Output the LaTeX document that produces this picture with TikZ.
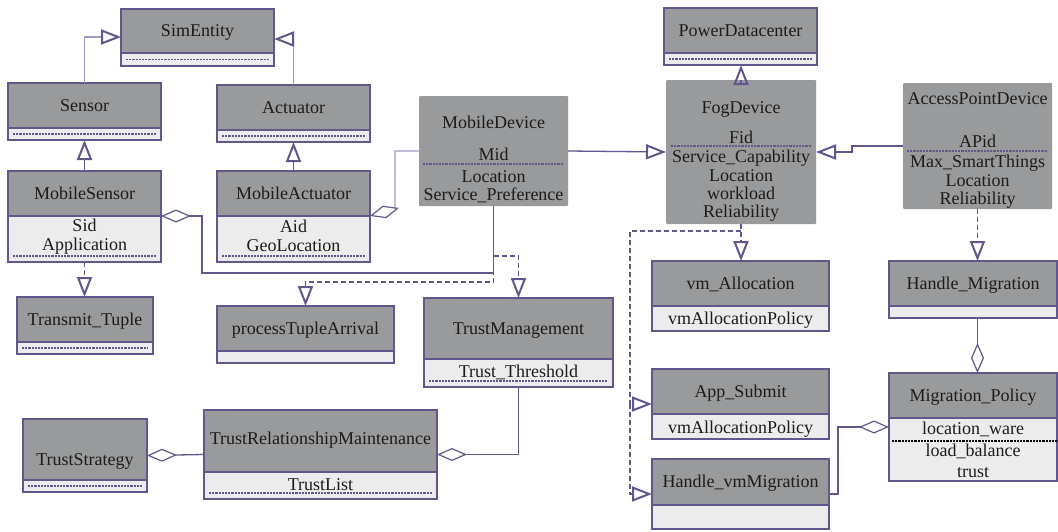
\documentclass[tikz,border=0pt]{standalone}
\usepackage{fontspec}
\setmainfont{Liberation Serif}
\usetikzlibrary{arrows.meta,calc}
\definecolor{hdrgray}{RGB}{152,154,156}
\definecolor{cmpgray}{RGB}{236,236,236}
\definecolor{umlpurple}{RGB}{96,88,140}
\definecolor{lightpurple}{RGB}{160,154,196}
\definecolor{txtcol}{RGB}{28,28,28}
\newcommand\fs{\fontsize{18}{19}\selectfont}
\tikzset{
  hdr/.style={draw=umlpurple, line width=1.5pt, fill=hdrgray, inner sep=0pt, outer sep=0pt,
    text height=13pt, text depth=2pt, font=\fs, text=txtcol},
  cmp/.style={draw=umlpurple, line width=1.5pt, fill=cmpgray, inner sep=0pt, outer sep=0pt},
  graybox/.style={fill=hdrgray, rounded corners=1pt, inner sep=0pt, outer sep=0pt},
  txt/.style={inner sep=0pt, outer sep=0pt, font=\fs, text=txtcol},
  dotl/.style={draw=umlpurple, line width=1.3pt, dash pattern=on 2.2pt off 1pt},
  conn/.style={draw=umlpurple, line width=1.3pt},
  connl/.style={draw=lightpurple, line width=1.2pt},
  dconn/.style={draw=umlpurple, line width=1.2pt, dash pattern=on 5pt off 3pt},
  tri/.tip={Triangle[open, length=20pt, width=15pt, line width=2pt, color=umlpurple]},
  dia/.tip={Diamond[length=30pt, width=13pt, line width=1.2pt, fill=white, color=umlpurple]},
}
% name, x, y, w, header height, compartment height, title
\newcommand\classbox[7]{%
  \node[hdr, minimum width=#4pt, minimum height=#5pt, anchor=north west] (#1) at (#2,#3) {#7};
  \node[cmp, minimum width=#4pt, minimum height=#6pt, anchor=north] (#1-c) at (#1.south) {};
  \coordinate (#1-W) at ($(#1.north west)!0.5!(#1-c.south west)$);
  \coordinate (#1-E) at ($(#1.north east)!0.5!(#1-c.south east)$);
}
\newcommand\dotsep[2]{\draw[dotl] ([xshift=5pt,yshift=#2pt]#1-c.south west) -- ([xshift=-5pt,yshift=#2pt]#1-c.south east);}
\newcommand\tline[4]{\node[txt, anchor=base] (#1) at (#2.center |- 0,#3) {#4};}

\begin{document}
\begin{tikzpicture}[x=1pt,y=-1pt]
\useasboundingbox (0,0) rectangle (1058,531);

% ---- class boxes ----
\classbox{simentity}{121}{9}{153}{44}{13}{SimEntity}
\dotsep{simentity}{6.5}
\classbox{sensor}{8}{83}{153}{45}{12}{Sensor}
\dotsep{sensor}{6}
\classbox{actuator}{217}{85}{153}{45}{12}{Actuator}
\dotsep{actuator}{6}
\classbox{mobilesensor}{8}{171}{153}{45}{46}{MobileSensor}
\dotsep{mobilesensor}{6}
\tline{ms-a1}{mobilesensor-c}{231}{Sid}
\tline{ms-a2}{mobilesensor-c}{250}{Application}
\classbox{mobileactuator}{217}{171}{153}{45}{46}{MobileActuator}
\dotsep{mobileactuator}{6}
\tline{ma-a1}{mobileactuator-c}{232}{Aid}
\tline{ma-a2}{mobileactuator-c}{251}{GeoLocation}
\classbox{transmit}{17}{297}{136}{45}{12}{Transmit\_Tuple}
\dotsep{transmit}{6}
\classbox{ptarrival}{217}{306}{177}{45}{12}{processTupleArrival}
\classbox{trustmgmt}{424}{298}{189}{61}{28}{TrustManagement}
\dotsep{trustmgmt}{6}
\tline{tm-a1}{trustmgmt-c}{377}{Trust\_Threshold}
\classbox{tstrat}{23}{419}{124}{61}{12}{\raisebox{-10pt}{TrustStrategy}}
\dotsep{tstrat}{6}
\classbox{trm}{204}{410}{233}{62}{27}{\raisebox{2pt}{TrustRelationshipMaintenance}}
\dotsep{trm}{6}
\tline{trm-a1}{trm-c}{490}{TrustList}
\classbox{powerdc}{664}{8}{153}{45}{12}{PowerDatacenter}
\dotsep{powerdc}{6}
\classbox{vmalloc}{652}{261}{177}{45}{25}{vm\_Allocation}
\tline{va-a1}{vmalloc-c}{324}{vmAllocationPolicy}
\classbox{appsubmit}{652}{369}{177}{45}{25}{App\_Submit}
\tline{as-a1}{appsubmit-c}{433}{vmAllocationPolicy}
\classbox{hvm}{652}{459}{177}{46}{24}{Handle\_vmMigration}
\classbox{handlemig}{889}{261}{168}{45}{12}{Handle\_Migration}
\classbox{migpol}{889}{373}{168}{45}{63}{Migration\_Policy}
\tline{mp-a1}{migpol-c}{434}{location\_ware}
\tline{mp-a2}{migpol-c}{456}{load\_balance}
\tline{mp-a3}{migpol-c}{477}{trust}
\draw[black, line width=1.2pt, dash pattern=on 2.2pt off 1pt] (892,441) -- (1057,441);

% ---- gray boxes ----
\node[graybox, minimum width=149pt, minimum height=110pt, anchor=north west] (mobiledevice) at (419,96) {};
\draw[dotl] (423,164) -- (563,164);
\tline{md-t1}{mobiledevice}{128}{MobileDevice}
\tline{md-t2}{mobiledevice}{160}{Mid}
\tline{md-t3}{mobiledevice}{182}{Location}
\tline{md-t4}{mobiledevice}{200}{Service\_Preference}

\node[graybox, minimum width=150pt, minimum height=144pt, anchor=north west] (fogdevice) at (666,80) {};
\draw[dotl] (671,146) -- (811,146);
\tline{fd-t1}{fogdevice}{113}{FogDevice}
\tline{fd-t2}{fogdevice}{143}{Fid}
\tline{fd-t3}{fogdevice}{162}{Service\_Capability}
\tline{fd-t4}{fogdevice}{181}{Location}
\tline{fd-t5}{fogdevice}{199}{workload}
\tline{fd-t6}{fogdevice}{217}{Reliability}

\node[graybox, minimum width=149pt, minimum height=126pt, anchor=north west] (accesspoint) at (903,83) {};
\draw[dotl] (907,151) -- (1047,151);
\tline{ap-t1}{accesspoint}{104}{AccessPointDevice}
\tline{ap-t2}{accesspoint}{147}{APid}
\tline{ap-t3}{accesspoint}{167}{Max\_SmartThings}
\tline{ap-t4}{accesspoint}{186}{Location}
\tline{ap-t5}{accesspoint}{204}{Reliability}

% ---- connectors ----
\draw[connl, -{tri}] (sensor.north) |- ([yshift=-6pt]simentity.west);
\draw[connl, -{tri}] (actuator.north) |- ([yshift=-8pt]simentity.east);
\draw[conn, -{tri}] (mobilesensor.north) -- (sensor-c.south);
\draw[conn, -{tri}] (mobileactuator.north) -- (actuator-c.south);
\draw[dconn, -{tri}] (mobilesensor-c.south) -- (mobilesensor-c.south |- transmit.north);
\draw[conn, {dia}-] (mobilesensor.south east) -- ++(41,0) |- (mobiledevice.south |- 0,273) -- (mobiledevice.south);
\draw[connl, {dia}-] (mobileactuator.south east) -- (395,209) |- (mobiledevice.west);
\draw[conn, -{tri}] (mobiledevice.east) -- (fogdevice.west);
\coordinate (mdsplit) at (493.5,256);
\draw[dconn, -{tri}] (mdsplit) -| (trustmgmt.north);
\draw[dconn, -{tri}] (mobiledevice.south) -- (mobiledevice.south |- 0,282) -| (ptarrival.north);
\draw[conn, -{tri}] (fogdevice.north) -- (fogdevice.north |- powerdc-c.south);
\draw[conn, -{tri}] (accesspoint.west) -- ++(-51,0) -- ++(0,6) -- (fogdevice.east);
\draw[dconn, -{tri}] (fogdevice.south) -- (fogdevice.south |- vmalloc.north);
\coordinate (fogsplit) at (741,231);
\coordinate (fogsplit2) at (630,404);
\draw[dconn, -{tri}] (fogsplit) -| (fogsplit2) -- (appsubmit-W);
\draw[dconn, -{tri}] (fogsplit2) |- (hvm-W);
\draw[dconn, -{tri}] (accesspoint.south) -- (accesspoint.south |- handlemig.north);
\draw[conn, -{dia}] (accesspoint.south |- handlemig-c.south) -- (accesspoint.south |- migpol.north);
\draw[conn, -{dia}] (hvm-E) -- ++(9,0) |- ([yshift=-9pt]migpol.south west);
\draw[conn, -{dia}] (trustmgmt-c.south) |- (trm-E);
\draw[conn, -{dia}] (trm-W) -- (tstrat-E);
\end{tikzpicture}
\end{document}
